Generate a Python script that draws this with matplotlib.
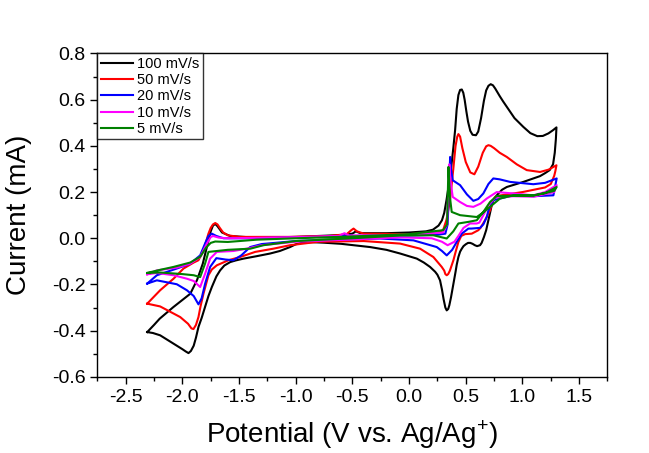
import matplotlib
matplotlib.use("Agg")
import matplotlib.pyplot as plt
from matplotlib.ticker import MultipleLocator, FormatStrFormatter

plt.rcParams['font.family'] = ['Liberation Sans', 'DejaVu Sans']
plt.rcParams['mathtext.fontset'] = 'custom'
plt.rcParams['mathtext.rm'] = 'Liberation Sans'
plt.rcParams['axes.unicode_minus'] = False

# Curvas CV (potencial V, corriente mA): rama superior y luego rama inferior
v_100 = [-2.31, -2.25, -2.20, -2.08, -1.93, -1.87, -1.82, -1.78, -1.75, -1.73, -1.71, -1.69, -1.65, -1.58,
         -1.40, -1.20, -1.00, -0.80, -0.60, -0.50, -0.47, -0.43, -0.20, 0.00, 0.15, 0.21, 0.26, 0.29, 0.31,
         0.33, 0.35, 0.37, 0.39, 0.406, 0.42, 0.435, 0.45, 0.465, 0.478, 0.49, 0.505, 0.52, 0.54, 0.56,
         0.59, 0.61, 0.635, 0.66, 0.68, 0.70, 0.72, 0.74, 0.76, 0.80, 0.83, 0.862, 0.93, 1.008, 1.07,
         1.131, 1.18, 1.229, 1.27, 1.30,
         1.295, 1.285, 1.27, 1.24, 1.20, 1.155, 1.08, 1.008, 0.93, 0.862, 0.82, 0.79, 0.76, 0.745, 0.73,
         0.715, 0.70, 0.68, 0.66, 0.64, 0.626, 0.60, 0.58, 0.56, 0.54, 0.52, 0.50, 0.48, 0.465, 0.45,
         0.435, 0.42, 0.41, 0.39, 0.37, 0.355, 0.345, 0.332, 0.32, 0.305, 0.29, 0.273, 0.25, 0.23, 0.185,
         0.13, 0.068, -0.079, -0.20, -0.344, -0.60, -0.756, -0.85, -0.932, -1.00, -1.05, -1.14, -1.226,
         -1.35, -1.46, -1.53, -1.578, -1.63, -1.667, -1.70, -1.74, -1.77, -1.80, -1.83, -1.858, -1.88,
         -1.90, -1.925, -1.946, -1.97, -2.00, -2.078, -2.196, -2.26, -2.31]
i_100 = [-0.406, -0.375, -0.348, -0.298, -0.240, -0.180, -0.110, -0.030, 0.030, 0.055, 0.062, 0.052, 0.025,
         0.010, 0.004, 0.004, 0.006, 0.010, 0.014, 0.020, 0.030, 0.022, 0.022, 0.025, 0.030, 0.037, 0.055,
         0.078, 0.110, 0.165, 0.230, 0.300, 0.390, 0.468, 0.560, 0.620, 0.642, 0.644, 0.630, 0.600, 0.550,
         0.505, 0.465, 0.448, 0.446, 0.462, 0.520, 0.595, 0.640, 0.660, 0.667, 0.662, 0.648, 0.615, 0.592,
         0.569, 0.520, 0.482, 0.455, 0.442, 0.443, 0.454, 0.468, 0.480,
         0.430, 0.370, 0.320, 0.295, 0.282, 0.269, 0.256, 0.244, 0.232, 0.222, 0.210, 0.195, 0.178, 0.165,
         0.145, 0.112, 0.078, 0.035, 0.005, -0.020, -0.030, -0.034, -0.030, -0.024, -0.020, -0.020, -0.026,
         -0.034, -0.045, -0.058, -0.081, -0.115, -0.145, -0.200, -0.255, -0.290, -0.306, -0.312, -0.300,
         -0.265, -0.222, -0.182, -0.158, -0.145, -0.124, -0.105, -0.088, -0.066, -0.050, -0.038, -0.024,
         -0.019, -0.017, -0.018, -0.026, -0.038, -0.055, -0.066, -0.078, -0.088, -0.096, -0.103, -0.118,
         -0.139, -0.165, -0.211, -0.250, -0.298, -0.345, -0.384, -0.430, -0.465, -0.488, -0.497, -0.490,
         -0.480, -0.456, -0.420, -0.410, -0.406]

v_50 = [-2.31, -2.196, -2.078, -1.99, -1.90, -1.858, -1.82, -1.80, -1.77, -1.75, -1.73, -1.71, -1.69, -1.67,
        -1.64, -1.60, -1.50, -1.05, -0.70, -0.55, -0.51, -0.49, -0.46, -0.40, 0.00, 0.25, 0.30, 0.33, 0.36,
        0.39, 0.41, 0.425, 0.435, 0.45, 0.47, 0.50, 0.54, 0.576, 0.61, 0.65, 0.68, 0.70, 0.72, 0.75, 0.80,
        0.862, 0.95, 1.038, 1.155, 1.23, 1.30,
        1.29, 1.28, 1.25, 1.20, 1.00, 0.80, 0.758, 0.735, 0.714, 0.67, 0.63, 0.611, 0.553, 0.494, 0.46,
        0.435, 0.41, 0.391, 0.36, 0.345, 0.332, 0.32, 0.31, 0.288, 0.214, 0.097, -0.079, -0.40, -0.80,
        -1.05, -1.197, -1.358, -1.49, -1.593, -1.696, -1.74, -1.77, -1.814, -1.84, -1.858, -1.88, -1.902,
        -1.92, -1.95, -2.019, -2.196, -2.31]
i_50 = [-0.283, -0.225, -0.175, -0.131, -0.105, -0.095, -0.060, -0.030, 0.020, 0.045, 0.060, 0.066, 0.060,
        0.045, 0.025, 0.013, 0.006, 0.006, 0.010, 0.018, 0.035, 0.042, 0.030, 0.020, 0.018, 0.025, 0.035,
        0.080, 0.160, 0.300, 0.400, 0.440, 0.451, 0.440, 0.390, 0.330, 0.285, 0.277, 0.310, 0.370, 0.398,
        0.403, 0.400, 0.390, 0.370, 0.352, 0.320, 0.295, 0.287, 0.297, 0.316,
        0.290, 0.270, 0.235, 0.220, 0.200, 0.185, 0.179, 0.155, 0.121, 0.078, 0.045, 0.035, 0.020, 0.018,
        0.010, -0.016, -0.060, -0.095, -0.140, -0.155, -0.160, -0.155, -0.140, -0.124, -0.081, -0.045,
        -0.023, -0.012, -0.015, -0.030, -0.045, -0.059, -0.081, -0.095, -0.117, -0.135, -0.160, -0.240,
        -0.295, -0.341, -0.375, -0.393, -0.390, -0.370, -0.341, -0.295, -0.283]

v_20 = [-2.31, -2.225, -2.049, -1.931, -1.843, -1.80, -1.77, -1.74, -1.70, -1.637, -1.40, -1.00, -0.60, -0.55,
        -0.50, 0.00, 0.25, 0.32, 0.34, 0.355, 0.362, 0.37, 0.385, 0.45, 0.51, 0.567, 0.61, 0.655, 0.70,
        0.743, 0.80, 0.891, 1.096, 1.20, 1.302,
        1.273, 1.096, 0.92, 0.743, 0.70, 0.685, 0.655, 0.626, 0.55, 0.523, 0.465, 0.42, 0.38, 0.332, 0.29,
        0.244, 0.038, -0.256, -0.60, -1.00, -1.30, -1.402, -1.48, -1.55, -1.62, -1.70, -1.755, -1.799,
        -1.83, -1.858, -1.90, -1.96, -2.049, -2.225, -2.31]
i_20 = [-0.196, -0.160, -0.131, -0.110, -0.074, -0.023, 0.010, 0.020, 0.010, 0.000, 0.000, 0.004, 0.008,
        0.015, 0.010, 0.012, 0.015, 0.020, 0.060, 0.250, 0.352, 0.300, 0.251, 0.230, 0.190, 0.162, 0.170,
        0.194, 0.235, 0.259, 0.255, 0.244, 0.234, 0.240, 0.259,
        0.186, 0.182, 0.186, 0.165, 0.121, 0.092, 0.060, 0.045, 0.042, 0.042, 0.020, -0.016, -0.050,
        -0.074, -0.055, -0.038, -0.009, -0.001, -0.005, -0.012, -0.025, -0.038, -0.074, -0.095, -0.092,
        -0.086, -0.124, -0.196, -0.260, -0.286, -0.250, -0.225, -0.199, -0.182, -0.196]

v_10 = [-2.31, -2.225, -2.049, -1.931, -1.843, -1.784, -1.75, -1.73, -1.68, -1.60, -1.00, -0.62, -0.57, -0.53,
        0.00, 0.30, 0.335, 0.345, 0.355, 0.365, 0.385, 0.45, 0.51, 0.567, 0.63, 0.685, 0.773, 0.92, 1.096,
        1.20, 1.302,
        1.28, 1.10, 0.92, 0.758, 0.70, 0.655, 0.62, 0.597, 0.538, 0.48, 0.435, 0.40, 0.34, 0.29, 0.20,
        -0.079, -0.50, -1.00, -1.30, -1.431, -1.549, -1.696, -1.755, -1.799, -1.843, -1.90, -1.96, -2.078,
        -2.225, -2.31]
i_10 = [-0.156, -0.139, -0.127, -0.110, -0.081, -0.023, 0.005, 0.010, 0.003, 0.000, 0.005, 0.010, 0.022,
        0.012, 0.015, 0.025, 0.060, 0.200, 0.320, 0.250, 0.179, 0.157, 0.140, 0.136, 0.150, 0.172, 0.200,
        0.194, 0.186, 0.200, 0.230,
        0.200, 0.180, 0.182, 0.176, 0.143, 0.100, 0.068, 0.064, 0.064, 0.045, 0.010, -0.015, -0.030,
        -0.015, 0.000, 0.004, -0.005, -0.015, -0.030, -0.045, -0.055, -0.059, -0.088, -0.153, -0.211,
        -0.185, -0.175, -0.160, -0.150, -0.156]

v_5 = [-2.31, -2.20, -2.078, -1.931, -1.843, -1.79, -1.75, -1.71, -1.60, -1.343, -1.00, -0.50, 0.00, 0.30,
       0.335, 0.342, 0.347, 0.36, 0.376, 0.45, 0.597, 0.65, 0.714, 0.802, 0.92, 1.096, 1.20, 1.302,
       1.28, 1.10, 0.92, 0.773, 0.714, 0.655, 0.597, 0.523, 0.435, 0.39, 0.332, 0.214, -0.079, -0.50,
       -1.00, -1.285, -1.40, -1.60, -1.77, -1.80, -1.843, -1.90, -2.00, -2.20, -2.31]
i_5 = [-0.150, -0.137, -0.124, -0.105, -0.080, -0.040, -0.020, -0.014, -0.016, -0.006, 0.000, 0.008, 0.018,
       0.035, 0.060, 0.200, 0.309, 0.180, 0.114, 0.100, 0.092, 0.110, 0.136, 0.172, 0.186, 0.186, 0.195,
       0.222,
       0.205, 0.185, 0.184, 0.183, 0.157, 0.114, 0.078, 0.071, 0.064, 0.030, -0.001, 0.013, 0.012, 0.000,
       -0.012, -0.030, -0.045, -0.050, -0.059, -0.110, -0.168, -0.160, -0.155, -0.148, -0.150]

etiquetas = ['100 mV/s', '50 mV/s', '20 mV/s', '10 mV/s', '5 mV/s']
colores = ['#000000', '#ff0000', '#0000ff', '#ff00ff', '#008000']
curvas = [(v_100, i_100), (v_50, i_50), (v_20, i_20), (v_10, i_10), (v_5, i_5)]

fig = plt.figure(figsize=(6.49, 4.53), dpi=100)
ax = fig.add_axes([0.150, 0.168, 0.786, 0.714])

for (v, i), c, lab in zip(curvas, colores, etiquetas):
    ax.plot(v, i, color=c, lw=1.5, label=lab, solid_joinstyle='round')

ax.set_xlim(-2.75, 1.75)
ax.set_ylim(-0.6, 0.8)
ax.xaxis.set_major_locator(MultipleLocator(0.5))
ax.xaxis.set_minor_locator(MultipleLocator(0.25))
ax.yaxis.set_major_locator(MultipleLocator(0.2))
ax.yaxis.set_minor_locator(MultipleLocator(0.1))
ax.xaxis.set_major_formatter(FormatStrFormatter('%.1f'))
ax.yaxis.set_major_formatter(FormatStrFormatter('%.1f'))
ax.tick_params(which='both', direction='out', top=False, right=False, labelsize=14, width=1)
ax.tick_params(which='major', length=5)
ax.tick_params(which='minor', length=3)
for s in ax.spines.values():
    s.set_linewidth(1.0)

ax.set_xlabel(r'Potential (V vs. Ag/Ag$^{+}$)', fontsize=20, labelpad=9)
ax.set_ylabel('Current (mA)', fontsize=20, labelpad=14)

leg = ax.legend(loc='upper left', borderaxespad=0, fontsize=10.5, frameon=True, fancybox=False,
                edgecolor='black', handlelength=2.2, handletextpad=0.3, labelspacing=0.15,
                borderpad=0.25)
leg.get_frame().set_linewidth(1.0)

fig.savefig('out.png', dpi=100)
